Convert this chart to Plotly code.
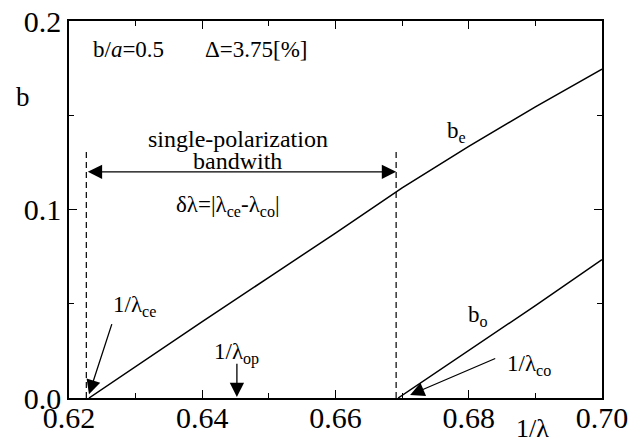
import plotly.graph_objects as go

# ---- data ----
be_x = [0.6230, 0.630, 0.640, 0.650, 0.660, 0.670, 0.680, 0.690, 0.700]
be_y = [0.0, 0.0168, 0.0405, 0.0640, 0.0875, 0.1115, 0.1335, 0.1545, 0.1745]
bo_x = [0.6694, 0.680, 0.690, 0.700]
bo_y = [0.0, 0.0250, 0.0490, 0.0734]
cutoff_ce = 0.6226
cutoff_co = 0.6691
dash_top = [0.132, 0.131]
bandwidth_y = 0.120
lambda_op = 0.6452
x_ticks = [0.62, 0.64, 0.66, 0.68, 0.70]
y_ticks = [0.0, 0.1, 0.2]

FONT = "Liberation Serif"

fig = go.Figure()
fig.add_trace(go.Scatter(x=be_x, y=be_y, mode="lines",
                         line=dict(color="black", width=1.5), showlegend=False))
fig.add_trace(go.Scatter(x=bo_x, y=bo_y, mode="lines",
                         line=dict(color="black", width=1.5), showlegend=False))
fig.add_trace(go.Scatter(x=[cutoff_ce, cutoff_ce], y=[0, dash_top[0]], mode="lines",
                         line=dict(color="black", width=1.2, dash="6px,4px"), showlegend=False))
fig.add_trace(go.Scatter(x=[cutoff_co, cutoff_co], y=[0, dash_top[1]], mode="lines",
                         line=dict(color="black", width=1.2, dash="6px,4px"), showlegend=False))


def text(x, y, s, size=23, xref="x", yref="y"):
    fig.add_annotation(x=x, y=y, xref=xref, yref=yref, text=s, showarrow=False,
                       font=dict(family=FONT, size=size, color="black"),
                       xanchor="center", yanchor="middle")


def arrow(x0, y0, x1, y1, side="end"):
    fig.add_annotation(x=x1, y=y1, ax=x0, ay=y0, xref="x", yref="y", axref="x", ayref="y",
                       text="", showarrow=True, arrowhead=2, arrowsize=2.2, arrowwidth=1.3,
                       arrowside=side, arrowcolor="black")


text(0.6290, 0.185, "b/<i>a</i>=0.5")
text(0.6482, 0.185, "Δ=3.75[%]")
text(-0.086, 0.798, "b", size=27, xref="paper", yref="paper")
text(0.6453, 0.1375, "single-polarization", size=24)
text(0.6453, 0.1255, "bandwith", size=24)
text(0.6439, 0.1020, "δλ=|λ<sub>ce</sub>-λ<sub>co</sub>|")
text(0.6781, 0.1410, "b<sub>e</sub>")
text(0.6814, 0.0436, "b<sub>o</sub>")
text(0.6299, 0.0490, "1/λ<sub>ce</sub>")
text(0.6452, 0.0234, "1/λ<sub>op</sub>")
text(0.6890, 0.0176, "1/λ<sub>co</sub>")
text(0.8705, -0.082, "1/λ", size=26, xref="paper", yref="paper")

arrow(cutoff_ce, bandwidth_y, cutoff_co, bandwidth_y, side="end+start")
arrow(0.6265, 0.040, 0.6230, 0.002)
arrow(lambda_op, 0.019, lambda_op, 0.0005)
arrow(0.6842, 0.0213, 0.6712, 0.0016)

axis_common = dict(showline=True, linecolor="black", linewidth=1.5, mirror="ticks",
                   ticks="inside", ticklen=8, tickwidth=1.3, tickcolor="black",
                   showgrid=False, zeroline=False, automargin=False,
                   tickfont=dict(family=FONT, size=30, color="black"))

fig.update_xaxes(range=[0.62, 0.70], tickvals=x_ticks,
                 ticktext=[f"{v:.2f}" for v in x_ticks],
                 ticklabelstandoff=-8,
                 minor=dict(ticks="inside", ticklen=5, dtick=0.01, tick0=0.62,
                            tickcolor="black", tickwidth=1.2),
                 **axis_common)
fig.update_yaxes(range=[0.0, 0.2], tickvals=y_ticks,
                 ticktext=[f"{v:.1f}" for v in y_ticks],
                 minor=dict(ticks="inside", ticklen=5, dtick=0.05, tick0=0,
                            tickcolor="black", tickwidth=1.2),
                 **axis_common)

fig.update_layout(width=643, height=445, margin=dict(l=69, r=41, t=21, b=47),
                  plot_bgcolor="white", paper_bgcolor="white", showlegend=False)

fig.write_html("out.html", config={"displayModeBar": False},
               post_script="document.body.style.margin='0';")
